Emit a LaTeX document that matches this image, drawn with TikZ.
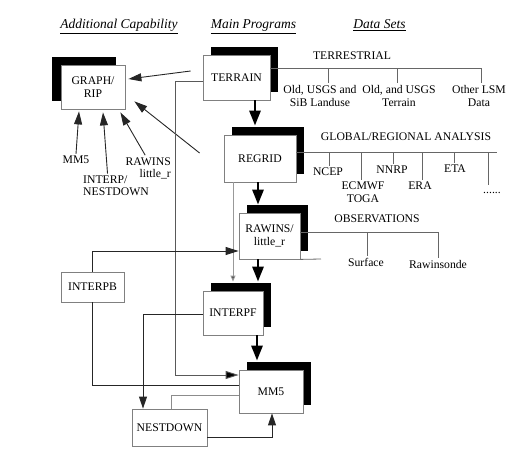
\documentclass[tikz,border=0pt]{standalone}
\usepackage{fontspec}
\setmainfont{Liberation Serif}
\usetikzlibrary{arrows.meta,calc,shadows}
\begin{document}
\begin{tikzpicture}[x=1pt,y=-1pt,
  every node/.style={font=\fontsize{11.7}{13}\selectfont},
  boxbase/.style={draw=black!50, line width=0.8pt, fill=white, inner sep=0pt, align=center},
  mainbox/.style={boxbase, general shadow={fill=black, shadow xshift=8pt, shadow yshift=8pt}},
  leftbox/.style={boxbase, general shadow={fill=black, shadow xshift=-9pt, shadow yshift=8pt}},
  lbl/.style={inner sep=2pt, align=center},
  head/.style={font=\fontsize{13.5}{16}\selectfont\itshape, anchor=base, inner sep=0pt},
  bigarrow/.style={line width=2.8pt, -{Triangle[length=15pt,width=11pt]}},
  arr/.style={line width=0.9pt, draw=black!85, -{Triangle[length=13pt,width=8pt]}},
  smallarr/.style={line width=0.9pt, draw=black!40, -{Triangle[length=6pt,width=5pt,fill=black!70]}},
  conn/.style={line width=0.9pt, draw=black!85},
  greyconn/.style={line width=0.9pt, draw=black!45},
  dline/.style={line width=0.8pt, draw=black!60}]
\useasboundingbox (0,0) rectangle (530,458);

% headings
\node[head] (h1) at (119,28.5) {\underline{Additional Capability}};
\node[head] (h2) at (253.5,28.5) {\underline{Main Programs}};
\node[head] (h3) at (379.5,28.5) {\underline{Data Sets}};

% boxes
\node[leftbox, minimum width=64pt, minimum height=44pt, font=\fontsize{11.7}{12.5}\selectfont] (graph) at (93,87) {GRAPH/\\RIP};
\node[mainbox, minimum width=67pt, minimum height=45pt] (terrain) at (236.5,77.5) {TERRAIN};
\node[mainbox, minimum width=72pt, minimum height=47pt] (regrid) at (260,158.5) {REGRID};
\node[mainbox, minimum width=61pt, minimum height=46pt] (rawins) at (269.5,236) {RAWINS/\\little\_r};
\node[mainbox, minimum width=60pt, minimum height=44pt] (interpf) at (233,313) {INTERPF};
\node[mainbox, minimum width=64pt, minimum height=43pt] (mm5) at (271,391.5) {MM5};
\node[boxbase, minimum width=63pt, minimum height=30pt] (interpb) at (92.5,287) {INTERPB};
\node[boxbase, minimum width=75pt, minimum height=37pt] (nestdown) at (169.5,427.5) {NESTDOWN};

% labels for additional capability
\node[lbl] (lmm5) at (76,160) {MM5};
\node[lbl, align=left, anchor=west, font=\fontsize{11.7}{11.5}\selectfont] (linterp) at (81,185.5) {INTERP/\\NESTDOWN};
\node[lbl, align=right, anchor=east, font=\fontsize{11.7}{12}\selectfont] (lrawins) at (173,168) {RAWINS\\little\_r};

% arrows into GRAPH/RIP
\draw[arr] (lmm5.north) -- ($(graph.south)+(-14,2)$);
\draw[arr] ($(linterp.north)+(-8.5,0)$) -- ($(graph.south)+(10,3)$);
\draw[arr] ($(lrawins.north)+(-3,0)$) -- ($(graph.south east)+(-5,3)$);
\draw[arr] ($(terrain.west)+(-12,-6.5)$) -- ($(graph.east)+(3,-8)$);
\draw[arr] ($(regrid.west)+(-24,-5.5)$) -- ($(graph.south east)+(9,-8)$);

% main chain
\draw[bigarrow] ([xshift=18.5pt]terrain.south) -- ($(regrid.north)+(-5,-9)$);
\draw[bigarrow] ([xshift=-2pt]regrid.south) -- ($(rawins.north)+(-11.5,-8)$);
\draw[bigarrow] ([xshift=-11.5pt]rawins.south) -- ($(interpf.north)+(25,-9)$);
\draw[bigarrow] ([xshift=24pt]interpf.south) -- ($(mm5.north)+(-14,-9)$);

% other connectors
\draw[arr, draw=black!65, -{Triangle[length=13pt,width=8pt,fill=black]}] ($(terrain.west)+(0,3.5)$) -- ++(-27,0) |- ($(mm5.west)+(0,-16.5)$);
\draw[smallarr] ($(regrid.south)+(-27,0)$) -- ($(interpf.north)+(0,-9)$);
\draw[arr] (interpb.north) |- ($(rawins.west)+(0,15)$);
\draw[conn] (interpb.south) |- ($(mm5.west)+(0,-6.5)$);
\draw[arr, -{Triangle[length=12pt,width=8pt]}] ($(interpf.west)+(0,1)$) -| ($(nestdown.north)+(-26.5,0)$);
\draw[greyconn] ($(mm5.west)+(0,3.5)$) -| ($(nestdown.north)+(1.5,0)$);
\draw[arr, -{Triangle[length=12pt,width=8pt]}] ($(nestdown.east)+(0,9.5)$) -| ($(mm5.south)+(1,0)$);
\coordinate (rstub) at (321,259);
\draw[dline] (rawins.south east) -- (rstub);

% Terrestrial data sets
\node[lbl] (terr) at (352,56) {TERRESTRIAL};
\node[lbl] (tl1) at (320,95.5) {Old, USGS and\\SiB Landuse};
\node[lbl] (tl2) at (399,96) {Old, and USGS\\Terrain};
\node[lbl] (tl3) at (479,95.5) {Other LSM\\Data};
\coordinate (tEnd) at (481,68);
\coordinate (td1) at (328,68);
\coordinate (td2) at (397,68);
\draw[dline] (terrain.east |- tEnd) -- (tEnd);
\draw[dline] (td1) -- (td1 |- tl1.north);
\draw[dline] (td2) -- (td2 |- tl2.north);
\draw[dline] (tEnd) -- (tEnd |- tl3.north);

% Global / regional analysis
\node[lbl] (glob) at (406,137) {GLOBAL/REGIONAL ANALYSIS};
\node[lbl] (g1) at (328,172) {NCEP};
\node[lbl] (g2) at (363,192.5) {ECMWF\\TOGA};
\node[lbl] (g3) at (392,170) {NNRP};
\node[lbl] (g4) at (420,186) {ERA};
\node[lbl] (g5) at (455,169) {ETA};
\node[lbl, text height=7pt] (g6) at (492,190.5) {......};
\coordinate (gEnd) at (497,152);
\coordinate (gd1) at (329,152);
\coordinate (gd2) at (361,152);
\coordinate (gd3) at (393,152);
\coordinate (gd4) at (422,152);
\coordinate (gd5) at (454,152);
\coordinate (gd6) at (488,152);
\draw[dline] (regrid.east |- gEnd) -- (gEnd);
\draw[dline] (gd1) -- (gd1 |- g1.north);
\draw[dline] (gd2) -- (gd2 |- g2.north);
\draw[dline] (gd3) -- (gd3 |- g3.north);
\draw[dline] (gd4) -- (gd4 |- g4.north);
\draw[dline] (gd5) -- (gd5 |- g5.north);
\draw[dline] (gd6) -- (gd6 |- g6.north);

% Observations
\node[lbl] (obs) at (377,219) {OBSERVATIONS};
\node[lbl] (o1) at (366,262) {Surface};
\node[lbl] (o2) at (438,264) {Rawinsonde};
\coordinate (oEnd) at (438,232);
\coordinate (od1) at (367,232);
\draw[dline] (rawins.east |- oEnd) -- (oEnd);
\draw[dline] (od1) -- (od1 |- o1.north);
\draw[dline] (oEnd) -- (oEnd |- o2.north);
\end{tikzpicture}
\end{document}
